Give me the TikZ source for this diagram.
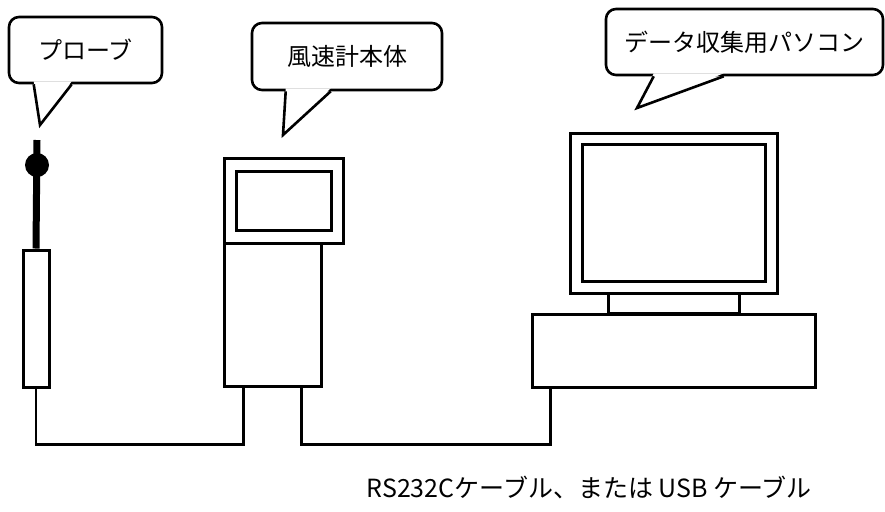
\documentclass[tikz,border=0pt]{standalone}
\usepackage{fontspec}
\newfontfamily\jpfont{Noto Sans CJK JP}
\usetikzlibrary{calc}

\begin{document}
\begin{tikzpicture}[
        x=0.5pt,y=-0.5pt,
        box/.style={draw,line width=1.5pt,inner sep=0pt,fill=white},
        balloon/.style={draw,line width=1.3pt,rounded corners=5pt,inner sep=0pt,
            fill=white,font=\jpfont\fontsize{12}{14}\selectfont},
        tail/.style={line width=1.3pt,line join=miter},
        wire/.style={line width=1.3pt}
    ]
    \useasboundingbox (0,0) rectangle (885,511);

    % probe
    \node[box,minimum width=13pt,minimum height=68.5pt] (probe) at (36,318.5) {};
    \coordinate (sticktop) at (37,140);
    \draw[line width=3.5pt] (sticktop) -- (probe.north);
    \node[circle,fill,inner sep=0pt,minimum size=12pt] (ball) at (37,165) {};

    % anemometer body
    \node[box,minimum width=59.5pt,minimum height=42.5pt] (head) at (283.5,200.5) {};
    \node[box,minimum width=47.5pt,minimum height=29.5pt] (screen) at (283.5,200.5) {};
    \node[box,minimum width=48.5pt,minimum height=71.5pt] (body) at (272.5,314.5) {};

    % pc
    \node[box,minimum width=103.5pt,minimum height=80pt] (monitor) at (673.5,213) {};
    \node[box,minimum width=91.5pt,minimum height=68.5pt] (display) at (673.5,212.5) {};
    \node[box,minimum width=65.5pt,minimum height=10pt] (stand) at (673.5,303) {};
    \node[box,minimum width=141.5pt,minimum height=36.5pt] (pcbase) at (673.5,350.5) {};

    % cables
    \draw[wire] (probe.south) -- ++(0,56) -| ([xshift=10.5pt]body.south west);
    \draw[wire] ([xshift=-10.5pt]body.south east) -- ++(0,57) -| ([xshift=10pt]pcbase.south west);
    \node[anchor=east,font=\jpfont\fontsize{12.5}{15}\selectfont] (cable) at (819,487)
        {RS232Cケーブル、または USB ケーブル};

    % balloons
    \node[balloon,minimum width=76.5pt,minimum height=33pt] (probecall) at (85.5,50) {プローブ};
    \coordinate (probetip) at (40,125);
    \fill[white] ([xshift=13pt,yshift=1.5pt]probecall.south west) -- (probetip)
        -- ([xshift=32pt,yshift=1.5pt]probecall.south west);
    \draw[tail] ([xshift=13pt]probecall.south west) -- (probetip)
        -- ([xshift=32pt]probecall.south west);

    \node[balloon,minimum width=95pt,minimum height=33.5pt] (bodycall) at (347,56.5) {風速計本体};
    \coordinate (bodytip) at (283,135);
    \fill[white] ([xshift=17.5pt,yshift=1.5pt]bodycall.south west) -- (bodytip)
        -- ([xshift=40pt,yshift=1.5pt]bodycall.south west);
    \draw[tail] ([xshift=17.5pt]bodycall.south west) -- (bodytip)
        -- ([xshift=40pt]bodycall.south west);

    \node[balloon,minimum width=138.5pt,minimum height=33pt] (pccall) at (744.5,42) {データ収集用パソコン};
    \coordinate (pctip) at (637,108);
    \fill[white] ([xshift=24.5pt,yshift=1.5pt]pccall.south west) -- (pctip)
        -- ([xshift=59.5pt,yshift=1.5pt]pccall.south west);
    \draw[tail] ([xshift=24.5pt]pccall.south west) -- (pctip)
        -- ([xshift=59.5pt]pccall.south west);
\end{tikzpicture}
\end{document}
